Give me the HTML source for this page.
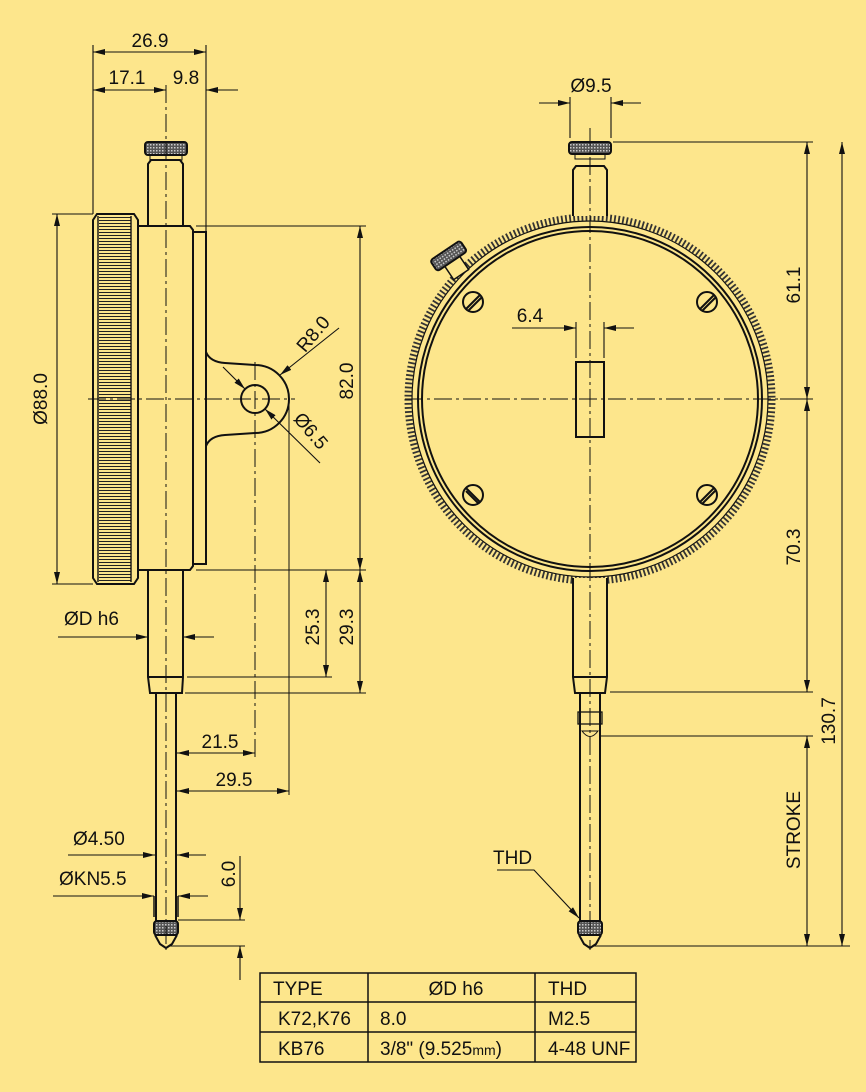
<!DOCTYPE html>
<html><head><meta charset="utf-8">
<style>
html,body{margin:0;padding:0;background:#fde68c;}
svg{display:block;}
text{font-family:"Liberation Sans Narrow","Liberation Sans",sans-serif;font-size:19px;fill:#111;}
</style></head><body>
<svg width="866" height="1092" viewBox="0 0 866 1092" xmlns="http://www.w3.org/2000/svg">
<defs>
<marker id="a" viewBox="0 0 12 6" refX="12" refY="3" markerWidth="12" markerHeight="6" orient="auto-start-reverse" markerUnits="userSpaceOnUse"><path d="M0,0 L12,3 L0,6 z" fill="#111"/></marker>
<pattern id="knurl" width="3" height="3" patternUnits="userSpaceOnUse"><rect width="3" height="3" fill="#fde68c"/><line x1="0" y1="1.5" x2="3" y2="1.5" stroke="#222" stroke-width="1"/></pattern>
<pattern id="cross" width="3" height="3" patternUnits="userSpaceOnUse"><rect width="3" height="3" fill="#555"/><rect width="1.5" height="1.5" fill="#ccc"/></pattern>
</defs>
<rect width="866" height="1092" fill="#fde68c"/>
<g fill="none" stroke="#111" stroke-width="1.4">
<!-- LEFT VIEW -->
<path d="M97,214 L134,214 L138,220 L138,578 L134,584 L97,584 L93,578 L93,220 Z" stroke-width="2"/>
<rect x="99" y="216" width="32" height="366" fill="url(#knurl)" stroke="none"/>
<line x1="98" y1="216" x2="98" y2="582"/><line x1="131" y1="216" x2="131" y2="582"/>
<path d="M138,226 L190,226 L193,230 L193,566 L190,570 L138,570" stroke-width="2"/>
<path d="M193,232 L206,232 L206,564 L193,564" stroke-width="2"/>
<path d="M206,352 Q210,362 225,363 L255,365 A34,34 0 0 1 255,433 L225,435 Q210,436 206,446" stroke-width="2"/>
<circle cx="255" cy="399" r="14" stroke-width="2"/>
<path d="M148,226 L148,164 L151,160 L180,160 L183,164 L183,226" stroke-width="2"/>
<rect x="150" y="155" width="32" height="5" stroke-width="1"/>
<rect x="145" y="142" width="42" height="13" rx="3" fill="url(#cross)" stroke-width="2"/>
<path d="M148,570 L148,677 L150,693 L182,693 L183,677 L183,570" stroke-width="2"/>
<line x1="148" y1="677" x2="183" y2="677" stroke-width="2"/>
<path d="M156,693 L156,922 M176,693 L176,922" stroke-width="2"/>
<path d="M154,896 L154,917 M178,896 L178,917" stroke-width="1.5"/>
<rect x="154" y="921" width="24" height="14" rx="3" fill="url(#cross)" stroke-width="2"/>
<path d="M155,935 L160,944 L166,948 L172,944 L177,935" stroke-width="2"/>
<g stroke-dasharray="18 4 3 4" stroke-width="1">
<line x1="166" y1="85" x2="166" y2="950"/>
<line x1="88" y1="399" x2="295" y2="399"/>
<line x1="255" y1="362" x2="255" y2="760"/>
</g>
<line x1="289" y1="405" x2="289" y2="795" stroke-width="1"/>
<g stroke-width="1.1">
<line x1="93" y1="45" x2="93" y2="214"/><line x1="206" y1="45" x2="206" y2="232"/>
<line x1="93" y1="52" x2="206" y2="52" marker-start="url(#a)" marker-end="url(#a)"/>
<line x1="93" y1="90" x2="166" y2="90" marker-start="url(#a)" marker-end="url(#a)"/>
<line x1="238" y1="90" x2="206" y2="90" marker-end="url(#a)"/>
<line x1="52" y1="214" x2="93" y2="214"/><line x1="52" y1="584" x2="93" y2="584"/>
<line x1="57" y1="214" x2="57" y2="584" marker-start="url(#a)" marker-end="url(#a)"/>
<line x1="196" y1="226" x2="366" y2="226"/><line x1="196" y1="570" x2="366" y2="570"/>
<line x1="360" y1="226" x2="360" y2="570" marker-start="url(#a)" marker-end="url(#a)"/>
<line x1="326" y1="570" x2="326" y2="677" marker-start="url(#a)" marker-end="url(#a)"/>
<line x1="187" y1="677" x2="332" y2="677"/>
<line x1="360" y1="570" x2="360" y2="693" marker-start="url(#a)" marker-end="url(#a)"/>
<line x1="185" y1="693" x2="366" y2="693"/>
<line x1="339" y1="328" x2="280" y2="375" marker-end="url(#a)"/>
<line x1="223" y1="367" x2="245" y2="389" marker-end="url(#a)"/>
<line x1="320" y1="463" x2="265" y2="409" marker-end="url(#a)"/>
<line x1="58" y1="637" x2="148" y2="637" marker-end="url(#a)"/>
<line x1="214" y1="637" x2="183" y2="637" marker-end="url(#a)"/>
<line x1="177" y1="753" x2="255" y2="753" marker-start="url(#a)" marker-end="url(#a)"/>
<line x1="177" y1="791" x2="289" y2="791" marker-start="url(#a)" marker-end="url(#a)"/>
<line x1="68" y1="855" x2="155" y2="855" marker-end="url(#a)"/>
<line x1="206" y1="855" x2="177" y2="855" marker-end="url(#a)"/>
<line x1="53" y1="896" x2="154" y2="896" marker-end="url(#a)"/>
<line x1="208" y1="896" x2="178" y2="896" marker-end="url(#a)"/>
<line x1="240" y1="856" x2="240" y2="920" marker-end="url(#a)"/>
<line x1="240" y1="980" x2="240" y2="946" marker-end="url(#a)"/>
<line x1="178" y1="920" x2="245" y2="920"/><line x1="170" y1="946" x2="245" y2="946"/>
</g>

<!-- RIGHT VIEW -->
<circle cx="590" cy="399" r="182" stroke-width="7" stroke-dasharray="1.8 2.3" stroke="#333"/>
<circle cx="590" cy="399" r="178" stroke-width="1.2"/>
<circle cx="590" cy="399" r="172" stroke-width="2"/>
<circle cx="590" cy="399" r="168" stroke-width="2"/>
<path d="M573,216 L573,170 L576,166 L604,166 L607,170 L607,216" stroke-width="2" fill="#fde68c"/>
<rect x="575" y="153" width="30" height="6" stroke-width="1"/>
<rect x="569" y="142" width="42" height="12" rx="3" fill="url(#cross)" stroke-width="2"/>
<g transform="rotate(-34 450 258)">
<rect x="441" y="262" width="18" height="16" stroke-width="1.5" fill="#fde68c"/>
<rect x="432" y="249" width="36" height="13" rx="3" fill="url(#cross)" stroke-width="2"/>
</g>
<g stroke-width="2">
<circle cx="473" cy="302" r="10"/><line x1="466" y1="309" x2="480" y2="295"/><line x1="468" y1="311" x2="482" y2="297"/>
<circle cx="707" cy="302" r="10"/><line x1="700" y1="309" x2="714" y2="295"/><line x1="702" y1="311" x2="716" y2="297"/>
<circle cx="473" cy="495" r="10"/><line x1="466" y1="488" x2="480" y2="502"/><line x1="466" y1="491" x2="478" y2="503"/>
<circle cx="707" cy="495" r="10"/><line x1="700" y1="502" x2="714" y2="488"/><line x1="702" y1="504" x2="716" y2="490"/>
</g>
<rect x="576" y="362" width="28" height="75" stroke-width="2"/>
<path d="M573,578 L573,677 L575,693 L605,693 L607,677 L607,578" stroke-width="2" fill="#fde68c"/>
<line x1="573" y1="677" x2="607" y2="677" stroke-width="2"/>
<path d="M580,693 L580,922 M600,693 L600,922" stroke-width="2"/>
<rect x="578" y="712" width="24" height="12" stroke-width="1.3"/>
<path d="M582,731 Q590,742 598,731 Z" stroke-width="1"/>
<rect x="578" y="921" width="24" height="14" rx="3" fill="url(#cross)" stroke-width="2"/>
<path d="M579,935 L584,944 L590,948 L596,944 L601,935" stroke-width="2"/>
<g stroke-dasharray="18 4 3 4" stroke-width="1">
<line x1="590" y1="128" x2="590" y2="950"/>
<line x1="405" y1="399" x2="780" y2="399"/>
</g>
<g stroke-width="1.1">
<line x1="570" y1="97" x2="570" y2="138"/><line x1="611" y1="97" x2="611" y2="138"/>
<line x1="539" y1="103" x2="570" y2="103" marker-end="url(#a)"/>
<line x1="641" y1="103" x2="611" y2="103" marker-end="url(#a)"/>
<line x1="576" y1="322" x2="576" y2="358"/><line x1="604" y1="322" x2="604" y2="358"/>
<line x1="512" y1="328" x2="576" y2="328" marker-end="url(#a)"/>
<line x1="634" y1="328" x2="604" y2="328" marker-end="url(#a)"/>
<line x1="613" y1="142" x2="813" y2="142"/>
<line x1="780" y1="399" x2="813" y2="399"/>
<line x1="807" y1="142" x2="807" y2="399" marker-start="url(#a)" marker-end="url(#a)"/>
<line x1="807" y1="399" x2="807" y2="692" marker-start="url(#a)" marker-end="url(#a)"/>
<line x1="610" y1="692" x2="813" y2="692"/>
<line x1="600" y1="736" x2="813" y2="736"/>
<line x1="807" y1="736" x2="807" y2="946" marker-start="url(#a)" marker-end="url(#a)"/>
<line x1="842" y1="142" x2="842" y2="946" marker-start="url(#a)" marker-end="url(#a)"/>
<line x1="592" y1="946" x2="850" y2="946"/>
<polyline points="497,870 534,870 579,918" marker-end="url(#a)" fill="none"/>
</g>
<g stroke-width="1.5">
<rect x="260" y="973" width="376" height="89"/>
<line x1="260" y1="1002" x2="636" y2="1002"/><line x1="260" y1="1032" x2="636" y2="1032"/>
<line x1="368" y1="973" x2="368" y2="1062"/><line x1="535" y1="973" x2="535" y2="1062"/>
</g>
</g>
<text x="150" y="47" text-anchor="middle">26.9</text>
<text x="127" y="84" text-anchor="middle">17.1</text>
<text x="186" y="84" text-anchor="middle">9.8</text>
<text transform="translate(47,399) rotate(-90)" text-anchor="middle">Ø88.0</text>
<text transform="translate(353,381) rotate(-90)" text-anchor="middle">82.0</text>
<text transform="translate(318,338) rotate(-50)" text-anchor="middle">R8.0</text>
<text transform="translate(306,435) rotate(50)" text-anchor="middle">Ø6.5</text>
<text x="64" y="625">ØD h6</text>
<text transform="translate(319,627) rotate(-90)" text-anchor="middle">25.3</text>
<text transform="translate(353,627) rotate(-90)" text-anchor="middle">29.3</text>
<text x="220" y="748" text-anchor="middle">21.5</text>
<text x="234" y="786" text-anchor="middle">29.5</text>
<text x="73" y="845">Ø4.50</text>
<text x="59" y="885">ØKN5.5</text>
<text transform="translate(235,874) rotate(-90)" text-anchor="middle">6.0</text>
<text x="591" y="92" text-anchor="middle">Ø9.5</text>
<text x="530" y="322" text-anchor="middle">6.4</text>
<text transform="translate(800,285) rotate(-90)" text-anchor="middle">61.1</text>
<text transform="translate(800,547) rotate(-90)" text-anchor="middle">70.3</text>
<text transform="translate(835,721) rotate(-90)" text-anchor="middle">130.7</text>
<text transform="translate(800,830) rotate(-90)" text-anchor="middle">STROKE</text>
<text x="493" y="864">THD</text>
<text x="273" y="995">TYPE</text>
<text x="456" y="995" text-anchor="middle">ØD h6</text>
<text x="548" y="995">THD</text>
<text x="278" y="1025">K72,K76</text>
<text x="380" y="1025">8.0</text>
<text x="548" y="1025">M2.5</text>
<text x="278" y="1055">KB76</text>
<text x="380" y="1055">3/8" (9.525<tspan style="font-size:14px">mm</tspan>)</text>
<text x="548" y="1055">4-48 UNF</text>
</svg>
</body></html>
